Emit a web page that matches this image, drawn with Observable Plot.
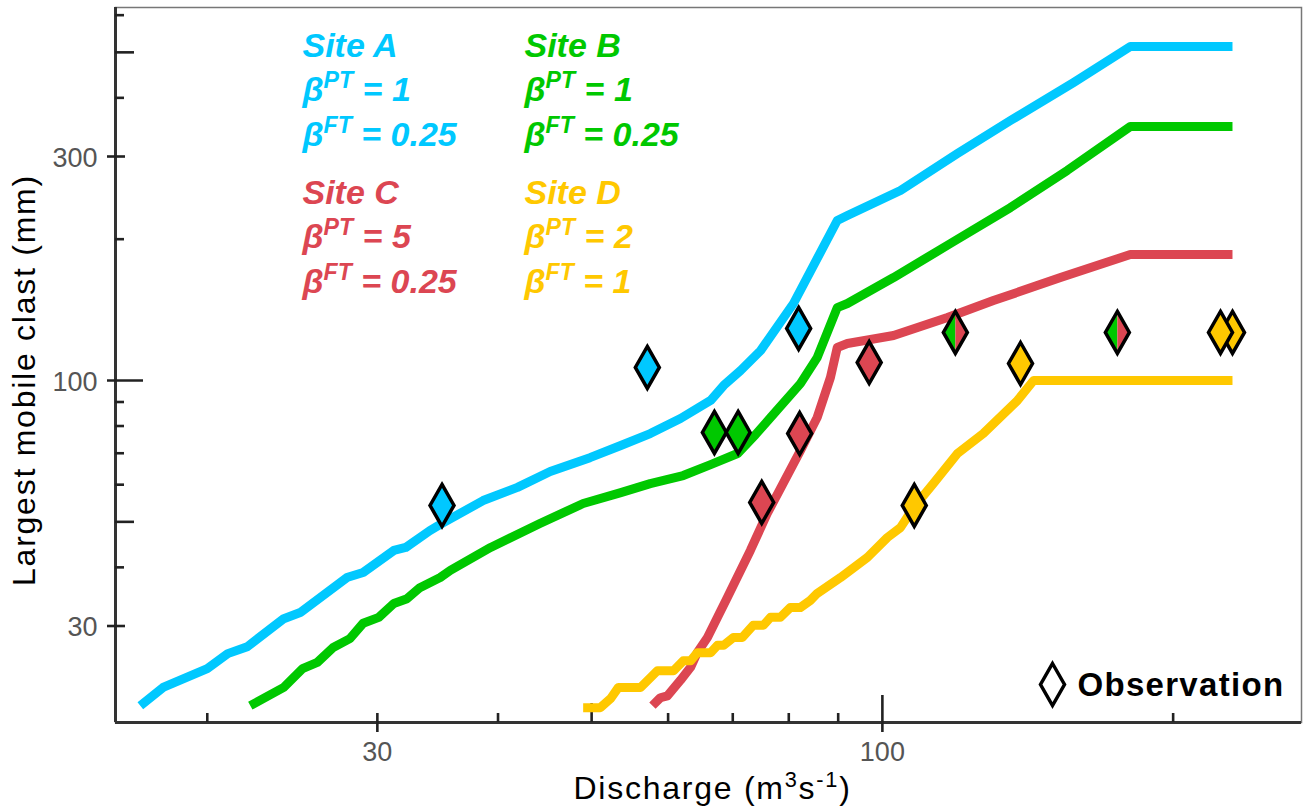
<!DOCTYPE html>
<html>
<head>
<meta charset="utf-8">
<script src="https://cdn.jsdelivr.net/npm/d3@7"></script>
<script src="https://cdn.jsdelivr.net/npm/@observablehq/plot@0.6"></script>
<style>
  html, body { margin: 0; padding: 0; background: #fff; }
</style>
</head>
<body>
<div id="chart"></div>
<script>
// Modelled largest mobile clast (mm) against discharge (m3/s), one curve per site
const siteAQ = [17.05, 18.0, 20.0, 21.0, 22.0, 24.0, 25.0, 27.9, 29.0, 31.2, 32.1, 34.0, 35.0, 38.6, 41.9, 45.3, 49.8, 53.6, 57.5, 61.8, 66.4, 68.5, 71.3, 74.8, 80.9, 89.8, 92.0, 104.4, 119.6, 135.7, 157.7, 180.6, 230.4];
const siteAD = [20.3, 22.2, 24.35, 26.2, 27.1, 31.1, 32.1, 38.05, 39.0, 43.45, 44.1, 47.9, 49.6, 55.5, 59.2, 64.0, 68.5, 72.7, 77.1, 83.0, 90.7, 97.6, 105.0, 115.8, 145.9, 219.2, 224.6, 253.9, 304.4, 357.9, 431.2, 514.5, 514.5];

const siteBQ = [22.16, 24.0, 25.1, 26.0, 27.0, 28.1, 29.0, 30.1, 31.2, 32.2, 33.2, 34.85, 35.7, 39.3, 44.2, 49.0, 53.6, 57.5, 62.2, 66.4, 70.8, 73.9, 76.6, 82.25, 85.6, 89.8, 92.0, 102.7, 117.6, 135.7, 155.4, 180.6, 230.4];
const siteBD = [20.3, 22.2, 24.35, 25.1, 27.0, 28.2, 30.4, 31.3, 33.5, 34.3, 36.2, 38.05, 39.4, 44.1, 49.6, 54.7, 57.7, 60.3, 62.75, 66.2, 69.9, 76.7, 83.4, 98.5, 111.9, 143.0, 145.9, 165.7, 195.8, 233.6, 280.2, 347.5, 347.5];

const siteCQ = [57.8, 58.9, 59.9, 61.8, 63.3, 64.3, 65.9, 67.5, 69.1, 73.0, 76.0, 82.25, 85.6, 88.35, 89.8, 92.0, 102.7, 116.8, 130.3, 152.9, 180.6, 230.4];
const siteCD = [20.3, 21.1, 21.3, 23.0, 24.5, 26.3, 28.35, 31.3, 34.5, 43.45, 52.1, 70.9, 83.4, 101.5, 117.6, 119.9, 124.7, 136.2, 148.0, 165.7, 185.5, 185.5];

const siteDQ = [49.0, 51.05, 52.3, 53.3, 56.2, 58.5, 60.8, 62.2, 63.3, 64.3, 66.4, 67.5, 68.5, 70.1, 71.6, 73.5, 75.3, 76.6, 78.4, 80.3, 82.25, 84.2, 85.6, 90.5, 96.5, 101.2, 104.4, 107.7, 112.9, 119.6, 127.2, 138.0, 143.4, 230.4];
const siteDD = [20.1, 20.1, 21.0, 22.2, 22.2, 24.1, 24.1, 25.3, 25.3, 26.3, 26.3, 27.3, 27.3, 28.35, 28.35, 30.1, 30.1, 31.3, 31.3, 32.85, 32.85, 34.0, 35.2, 38.05, 42.0, 46.3, 48.6, 53.6, 60.3, 69.9, 77.1, 90.7, 100, 100];

// Field observations ("BC" = shared by sites B and C)
const obsSite = ["A", "A", "A", "B", "B", "C", "C", "C", "BC", "BC", "D", "D", "D", "D"];
const obsQ = [35.0, 57.1, 81.9, 67.0, 70.9, 75.0, 82.1, 96.9, 119.0, 175.1, 107.9, 139.0, 230.4, 223.9];
const obsD = [54.2, 106.6, 129.1, 77.5, 77.5, 55.0, 77.1, 109.2, 126.6, 126.6, 54.2, 108.7, 126.6, 126.6];

// Legend parameters
const siteKeys = ["A", "B", "C", "D"];
const siteNames = ["Site A", "Site B", "Site C", "Site D"];
const betaPT = [1, 1, 5, 2];
const betaFT = [0.25, 0.25, 0.25, 1];
const siteColors = ["#00c8ff", "#00c800", "#dc4652", "#ffc800"];

// Axis ticks
const xTicksMinor = [20, 40, 60, 70, 80, 90, 200];
const xTicksMid = [50];
const xTicksLabeled = [30, 100];
const yTicksMinor = [40, 60, 70, 80, 90, 200, 400, 600];
const yTicksMid = [50, 500];
const yTicksLabeled = [30, 100, 300];

const xTitle = "Discharge (m{3}s{-1})";
const yTitle = "Largest mobile clast (mm)";
const keyLabel = "Observation";

const xDomain = [16.07, 271.6];
const yDomain = [18.69, 623];

const W = 1304, H = 809;
const M = {top: 7, right: 3, bottom: 87, left: 115};
const frameW = W - M.left - M.right;
const frameH = H - M.top - M.bottom;
const font = "'Liberation Sans', Arial, Helvetica, sans-serif";

// Tall diamond marker and its two halves
const shape = (size) => { const r = Math.sqrt(size / Math.PI); return [1.2 * r, 2.1 * r]; };
const diamond = {draw(c, s) { const [w, h] = shape(s); c.moveTo(0, -h); c.lineTo(w, 0); c.lineTo(0, h); c.lineTo(-w, 0); c.closePath(); }};
const halfLeft = {draw(c, s) { const [w, h] = shape(s); c.moveTo(0, -h); c.lineTo(-w, 0); c.lineTo(0, h); c.closePath(); }};
const halfRight = {draw(c, s) { const [w, h] = shape(s); c.moveTo(0, -h); c.lineTo(w, 0); c.lineTo(0, h); c.closePath(); }};

const curves = [
  {key: "A", q: siteAQ, d: siteAD},
  {key: "B", q: siteBQ, d: siteBD},
  {key: "C", q: siteCQ, d: siteCD},
  {key: "D", q: siteDQ, d: siteDD}
];

const obs = obsSite.map((site, i) => ({site, q: obsQ[i], d: obsD[i]}));
const obsSolid = obs.filter(o => o.site !== "BC");
const obsShared = obs.filter(o => o.site === "BC");

const tick = {stroke: "#222", strokeWidth: 2.6};
const isDecade = d => Number.isInteger(Math.log10(d));

// Legend block: two columns, two rows, three lines each
const legendCol = [187, 409];
const legendRow = [49, 196];
const legendLine = [0, 44, 89];
const legendMarks = siteNames.flatMap((name, i) => {
  const lines = [name, `β{PT} = ${betaPT[i]}`, `β{FT} = ${betaFT[i]}`];
  return lines.map((txt, j) => Plot.text([txt], {
    x: null, y: null, text: d => d,
    frameAnchor: "top-left", textAnchor: "start", lineAnchor: "bottom",
    dx: legendCol[i % 2], dy: legendRow[Math.floor(i / 2)] + legendLine[j],
    fill: siteColors[i], fontSize: 34, fontWeight: "bold", fontStyle: "italic"
  }));
});

const chart = Plot.plot({
  width: W, height: H,
  marginTop: M.top, marginRight: M.right, marginBottom: M.bottom, marginLeft: M.left,
  style: {fontFamily: font, background: "#fff", overflow: "visible"},
  x: {type: "log", domain: xDomain, axis: null},
  y: {type: "log", domain: yDomain, axis: null},
  color: {domain: siteKeys, range: siteColors},
  marks: [
    Plot.frame({stroke: "#777", strokeWidth: 1.5}),
    Plot.ruleX([xDomain[0]], {stroke: "#333", strokeWidth: 3}),
    Plot.ruleY([yDomain[0]], {stroke: "#333", strokeWidth: 3}),

    // x ticks (inside the frame; labelled ones also cross below)
    Plot.tickX(xTicksMinor, {x: d => d, insetTop: frameH - 9, ...tick}),
    Plot.tickX(xTicksMid, {x: d => d, insetTop: frameH - 19, ...tick}),
    Plot.tickX(xTicksLabeled.filter(d => !isDecade(d)), {x: d => d, insetTop: frameH - 9, insetBottom: -10, ...tick}),
    Plot.tickX(xTicksLabeled.filter(isDecade), {x: d => d, insetTop: frameH - 27, insetBottom: -10, ...tick}),
    // y ticks
    Plot.tickY(yTicksMinor, {y: d => d, insetRight: frameW - 9, ...tick}),
    Plot.tickY(yTicksMid, {y: d => d, insetRight: frameW - 19, ...tick}),
    Plot.tickY(yTicksLabeled.filter(d => !isDecade(d)), {y: d => d, insetRight: frameW - 10, insetLeft: -8, ...tick}),
    Plot.tickY(yTicksLabeled.filter(isDecade), {y: d => d, insetRight: frameW - 28, insetLeft: -8, ...tick}),

    // tick labels
    Plot.text(xTicksLabeled, {x: d => d, frameAnchor: "bottom", lineAnchor: "bottom", dy: 38, text: d => String(d), fontSize: 27, fill: "#555"}),
    Plot.text(yTicksLabeled, {y: d => d, frameAnchor: "left", lineAnchor: "bottom", dx: -18, dy: 10, textAnchor: "end", text: d => String(d), fontSize: 27, fill: "#555"}),

    // model curves
    ...curves.map(c => Plot.line(d3.zip(c.q, c.d), {
      x: d => d[0], y: d => d[1], stroke: siteColors[siteKeys.indexOf(c.key)],
      strokeWidth: 9, strokeLinejoin: "round", strokeLinecap: "butt"
    })),

    // observations
    Plot.dot(obsSolid, {x: "q", y: "d", fill: "site", symbol: diamond, r: 10, stroke: "#000", strokeWidth: 3.5}),
    Plot.dot(obsShared, {x: "q", y: "d", fill: siteColors[1], symbol: halfLeft, r: 10}),
    Plot.dot(obsShared, {x: "q", y: "d", fill: siteColors[2], symbol: halfRight, r: 10}),
    Plot.dot(obsShared, {x: "q", y: "d", fill: "none", symbol: diamond, r: 10, stroke: "#000", strokeWidth: 3.5}),

    // site legend
    ...legendMarks,

    // observation key
    Plot.dot([0], {x: null, y: null, frameAnchor: "bottom-right", dx: -249, dy: -38, symbol: diamond, r: 10, fill: "#fff", stroke: "#000", strokeWidth: 3.5}),
    Plot.text([keyLabel], {x: null, y: null, text: d => d, frameAnchor: "bottom-right", lineAnchor: "bottom", dx: -224, dy: -27, textAnchor: "start", fontSize: 33, fontWeight: "bold", fill: "#000"}),

    // axis titles
    Plot.text([yTitle], {x: null, y: null, text: d => d, frameAnchor: "left", textAnchor: "middle", lineAnchor: "bottom", rotate: -90, dx: -81, dy: 15, fontSize: 32, fill: "#000"}),
    Plot.text([xTitle], {x: null, y: null, text: d => d, frameAnchor: "bottom", textAnchor: "middle", lineAnchor: "bottom", dx: 4, dy: 76, fontSize: 32, fill: "#000"})
  ]
});

// Turn {…} runs into raised, smaller tspans
function applySuperscripts(svg) {
  const NS = "http://www.w3.org/2000/svg";
  const scale = 0.68, raise = 0.36;
  for (const t of svg.querySelectorAll("text")) {
    const s = t.textContent;
    if (!s.includes("{")) continue;
    t.textContent = "";
    let up = false;
    for (const part of s.split(/(\{[^}]*\})/).filter(p => p)) {
      const ts = document.createElementNS(NS, "tspan");
      if (part.startsWith("{")) {
        ts.textContent = part.slice(1, -1);
        ts.style.fontSize = `${scale * 100}%`;
        ts.setAttribute("dy", `${-raise / scale}em`);
        up = true;
      } else {
        ts.textContent = part;
        if (up) ts.setAttribute("dy", `${raise}em`);
        up = false;
      }
      t.appendChild(ts);
    }
  }
}

// Slightly open tracking on the plain-text titles
function applyTracking(svg, spacing) {
  for (const t of svg.querySelectorAll("text")) {
    const px = spacing.get(t.textContent);
    if (px != null) t.style.letterSpacing = `${px}px`;
  }
}

applyTracking(chart, new Map([[yTitle, 1.75], [xTitle, 1.75], [keyLabel, 1.3]]));
applySuperscripts(chart);

document.getElementById("chart").appendChild(chart);
</script>
</body>
</html>
